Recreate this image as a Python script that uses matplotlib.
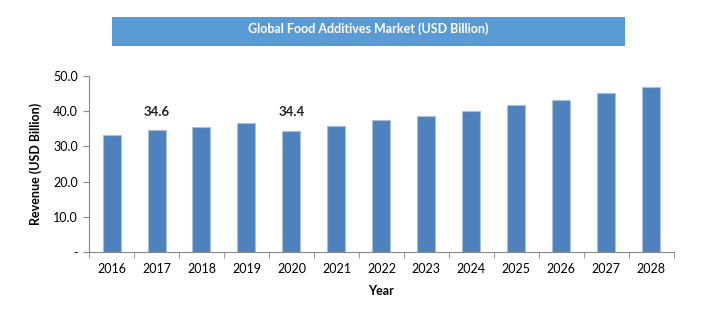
import matplotlib
matplotlib.use("Agg")
import matplotlib.pyplot as plt
from matplotlib.patches import Rectangle
import numpy as np

years = ["2016", "2017", "2018", "2019", "2020", "2021", "2022",
         "2023", "2024", "2025", "2026", "2027", "2028"]
revenue = [33.2, 34.6, 35.6, 36.8, 34.4, 35.9, 37.5,
           38.7, 40.2, 41.8, 43.3, 45.1, 47.0]
labelled = {"2017": "34.6", "2020": "34.4"}
yticks = [0, 10, 20, 30, 40, 50]
ytick_labels = ["-", "10.0", "20.0", "30.0", "40.0", "50.0"]
title = "Global Food Additives Market (USD Billion)"

plt.rcParams["font.family"] = ["Lato", "DejaVu Sans"]

fig = plt.figure(figsize=(7.1, 3.25), dpi=100)
ax = fig.add_axes([0.1254, 0.2246, 0.949 - 0.1254, 0.766 - 0.2246])

x = np.arange(len(years))
ax.bar(x, revenue, width=0.4, color="#4F81BD", edgecolor="#A7BFDE", linewidth=0.8)

for xi, yr, val in zip(x, years, revenue):
    if yr in labelled:
        ax.annotate(labelled[yr], (xi, val), xytext=(0, 9), textcoords="offset points",
                    ha="center", va="bottom", fontsize=9.5, fontweight="bold", color="#222222")

ax.set_xlim(-0.5, len(years) - 0.5)
ax.set_ylim(0, 50)
ax.set_yticks(yticks)
ax.set_yticklabels(ytick_labels)
ax.set_xticks(x)
ax.set_xticklabels(years)
ax.set_xticks(np.arange(-0.5, len(years), 1.0), minor=True)
ax.tick_params(axis="x", which="major", length=0, pad=8, labelsize=9)
ax.tick_params(axis="x", which="minor", length=4, color="#888888", direction="out")
ax.tick_params(axis="y", length=4, color="#888888", labelsize=9, pad=4)

for side in ("top", "right"):
    ax.spines[side].set_visible(False)
for side in ("left", "bottom"):
    ax.spines[side].set_color("#888888")
    ax.spines[side].set_linewidth(0.8)

ax.set_xlabel("Year", fontsize=9, fontweight="bold", labelpad=7)
ax.set_ylabel("Revenue (USD Billion)", fontsize=9, fontweight="bold", labelpad=8)

# title banner
fig.patches.append(Rectangle((112 / 710, 1 - 46 / 325), (625 - 112) / 710, 29 / 325,
                             transform=fig.transFigure, facecolor="#5B9BD5",
                             edgecolor="none"))
fig.text(368 / 710, 1 - 29 / 325, title, ha="center", va="center",
         fontsize=9, color="white", fontweight="bold")

fig.savefig("out.png", dpi=100)
